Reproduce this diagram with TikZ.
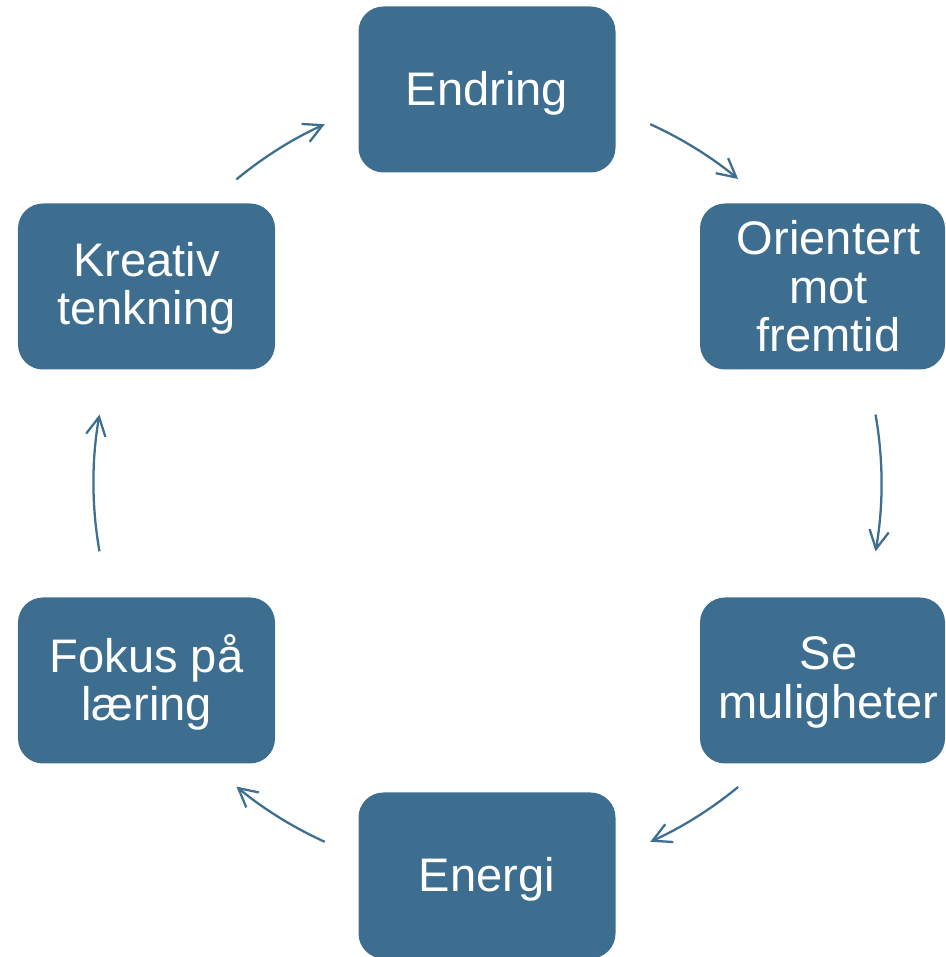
\documentclass[tikz,border=0pt]{standalone}
\usepackage{fontspec}
\setmainfont{Liberation Sans}
\usetikzlibrary{arrows.meta}
\definecolor{boxblue}{HTML}{3D6E90}
\definecolor{arrowblue}{HTML}{3E6F91}
\begin{document}
\begin{tikzpicture}[
  box/.style={fill=boxblue, rounded corners=0.5cm, minimum width=5.14cm,
    minimum height=3.32cm, inner sep=0pt},
  rbox/.style={box, minimum width=4.90cm},
  lbl/.style={text=white, align=center, inner sep=0pt,
    font=\fontsize{26.8}{27.6}\selectfont},
  cyc/.style={draw=arrowblue, line width=1.3pt,
    -{Straight Barb[length=3.7mm,width=3.9mm,line width=1.3pt]}}
]
\useasboundingbox (0,0) rectangle (18.92,19.14);
\coordinate (c) at (9.75,9.48);
\node[box, label={[lbl, yshift=-0.08cm]center:Endring}] (endring) at (9.74,17.35) {};
\node[rbox, label={[lbl, xshift=0.12cm]center:{Orientert\\mot\\fremtid}}] (orient) at (16.45,13.41) {};
\node[rbox, label={[lbl, xshift=0.12cm, yshift=-0.04cm]center:{Se\\muligheter}}] (muligheter) at (16.45,5.53) {};
\node[box, label={[lbl, yshift=-0.08cm]center:Energi}] (energi) at (9.74,1.63) {};
\node[box, label={[lbl, yshift=-0.04cm]center:{Fokus på\\læring}}] (fokus) at (2.93,5.53) {};
\node[box, label={[lbl, yshift=-0.04cm]center:{Kreativ\\tenkning}}] (kreativ) at (2.93,13.41) {};
\coordinate (a1) at ([shift={(129.6:7.88)}]c);
\coordinate (a2) at ([shift={(65.6:7.88)}]c);
\coordinate (a3) at ([shift={(10:7.88)}]c);
\coordinate (a4) at ([shift={(-50.5:7.88)}]c);
\coordinate (a5) at ([shift={(-114.4:7.88)}]c);
\coordinate (a6) at ([shift={(190:7.88)}]c);
\draw[cyc] (a1) arc[start angle=129.6, end angle=114.4, radius=7.88];
\draw[cyc] (a2) arc[start angle=65.6, end angle=50.5, radius=7.88];
\draw[cyc] (a3) arc[start angle=10, end angle=-10, radius=7.88];
\draw[cyc] (a4) arc[start angle=-50.5, end angle=-65.6, radius=7.88];
\draw[cyc] (a5) arc[start angle=-114.4, end angle=-129.6, radius=7.88];
\draw[cyc] (a6) arc[start angle=190, end angle=170, radius=7.88];
\end{tikzpicture}
\end{document}
